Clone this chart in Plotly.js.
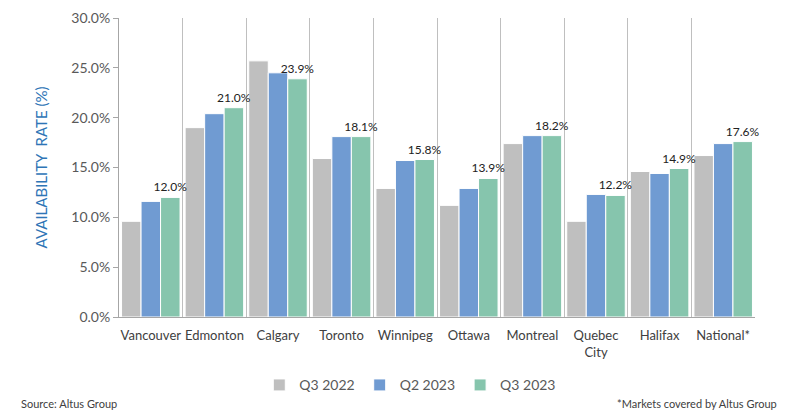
<!DOCTYPE html>
<html><head><meta charset="utf-8">
<script src="https://cdn.plot.ly/plotly-3.0.1.min.js"></script>
<style>html,body{margin:0;padding:0;background:#fff}#c{width:800px;height:420px}</style>
</head><body><div id="c"></div>
<script>
const categories = ["Vancouver","Edmonton","Calgary","Toronto","Winnipeg","Ottawa","Montreal","Quebec<br>City","Halifax","National*"];
const q3_2022 = [9.6, 19.0, 25.7, 15.9, 12.9, 11.2, 17.4, 9.6, 14.6, 16.2];
const q2_2023 = [11.6, 20.4, 24.5, 18.1, 15.7, 12.9, 18.2, 12.3, 14.4, 17.4];
const q3_2023 = [12.0, 21.0, 23.9, 18.1, 15.8, 13.9, 18.2, 12.2, 14.9, 17.6];
const seriesNames = ["Q3 2022","Q2 2023","Q3 2023"];
const colors = ["#BFBFBF","#709BD2","#86C5AD"];

const mk = (y, i, lbl) => ({
  type: "bar", x: categories, y: y, name: seriesNames[i],
  marker: {color: colors[i], line: {color: "#ffffff", width: 1}},
  text: lbl ? y.map(v => v.toFixed(1) + "%") : undefined,
  textposition: lbl ? "outside" : "none",
  constraintext: "none",
  textfont: {family: "Lato, 'Open Sans', sans-serif", size: 12, color: "#222"},
  cliponaxis: false,
  hoverinfo: "none"
});

const data = [mk(q3_2022,0,false), mk(q2_2023,1,false), mk(q3_2023,2,true)];

const layout = {
  width: 800, height: 420,
  margin: {l: 119, r: 45, t: 18, b: 103},
  paper_bgcolor: "#fff", plot_bgcolor: "#fff",
  font: {family: "Lato, 'Open Sans', sans-serif", size: 13, color: "#595959"},
  barmode: "group", bargap: 0.08, bargroupgap: 0,
  showlegend: true,
  legend: {orientation: "h", x: 0.458, xanchor: "center", y: -0.175, yanchor: "top",
           font: {size: 14, color: "#595959"}, traceorder: "normal", itemwidth: 30},
  xaxis: {
    tickson: "boundaries", showgrid: true, gridcolor: "#BFBFBF", gridwidth: 1,
    showline: true, linecolor: "#A6A6A6", linewidth: 1, tickangle: 0,
    ticks: "", ticklabelstandoff: 6, tickfont: {size: 13, color: "#404040"}, automargin: false,
    fixedrange: true
  },
  yaxis: {
    range: [0, 30], tickvals: [0,5,10,15,20,25,30],
    ticktext: ["0.0%","5.0%","10.0%","15.0%","20.0%","25.0%","30.0%"],
    showgrid: false, zeroline: false,
    showline: true, linecolor: "#A6A6A6", linewidth: 1,
    ticks: "outside", ticklen: 5, tickcolor: "#A6A6A6",
    tickfont: {size: 14, color: "#595959"},
    title: {text: "AVAILABILITY  RATE (%)", font: {size: 15, color: "#2E75B6"}, standoff: 20},
    automargin: false, fixedrange: true
  },
  annotations: [
    {text: "Source: Altus Group", xref: "paper", yref: "paper", x: 0, y: -0.262, xanchor: "left", yanchor: "top",
     showarrow: false, font: {size: 11, color: "#404040"}, xshift: -100},
    {text: "*Markets covered by Altus Group", xref: "paper", yref: "paper", x: 1, y: -0.262, xanchor: "right", yanchor: "top",
     showarrow: false, font: {size: 11, color: "#404040"}, xshift: 24}
  ]
};

Plotly.newPlot("c", data, layout, {displayModeBar: false, staticPlot: true});
</script></body></html>
